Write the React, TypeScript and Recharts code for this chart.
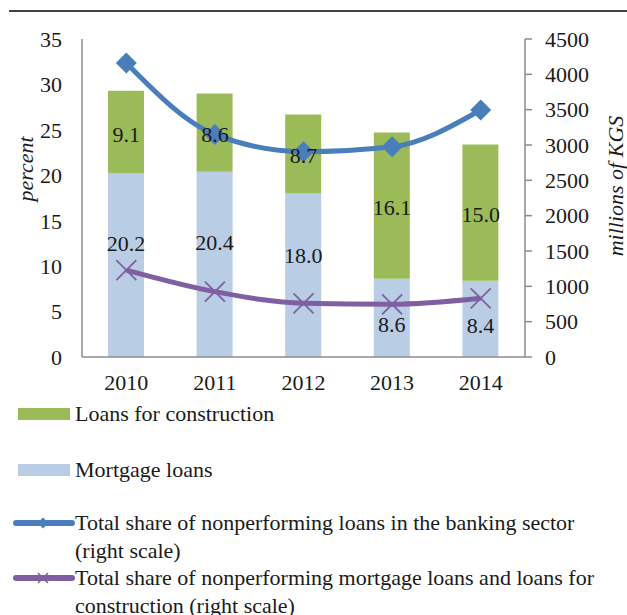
import React from 'react';
import { ComposedChart, Bar, Line, XAxis, YAxis, LabelList, Legend } from 'recharts';

const years = ['2010', '2011', '2012', '2013', '2014'];
const mortgageLoans = [20.2, 20.4, 18.0, 8.6, 8.4];
const constructionLoans = [9.1, 8.6, 8.7, 16.1, 15.0];
const totalNplBanking = [4160, 3150, 2905, 2975, 3495];
const totalNplHousing = [1230, 925, 760, 745, 830];
const leftTicks = [0, 5, 10, 15, 20, 25, 30, 35];
const rightTicks = [0, 500, 1000, 1500, 2000, 2500, 3000, 3500, 4000, 4500];

const NAME_CONSTR = 'Loans for construction';
const NAME_MORT = 'Mortgage loans';
const NAME_TOTAL = 'Total share of nonperforming loans in the banking sector (right scale)';
const NAME_HOUSING = 'Total share of nonperforming mortgage loans and loans for construction (right scale)';
const legendOrder = [NAME_CONSTR, NAME_MORT, NAME_TOTAL, NAME_HOUSING];

const data = years.map((year, i) => ({
  year,
  mortgage: mortgageLoans[i],
  construction: constructionLoans[i],
  constructionMid: mortgageLoans[i] + constructionLoans[i] / 2,
  total: totalNplBanking[i],
  housing: totalNplHousing[i],
}));

const FONT = "'Liberation Serif', 'Times New Roman', serif";
const TEXT = '#1a1a1a';
const AXIS = '#8c8c8c';
const GREEN = '#9BBB59';
const LIGHTBLUE = '#B9CDE5';
const BLUE = '#4A7EBB';
const PURPLE = '#7F5FA1';

const tickStyle = { fontFamily: FONT, fontSize: 22, fill: TEXT };

const DiamondDot = (props: any) => {
  const { cx, cy } = props;
  if (cx == null || cy == null) return <g />;
  const r = 10.5;
  return (
    <path
      d={`M${cx},${cy - r} L${cx + r},${cy} L${cx},${cy + r} L${cx - r},${cy} Z`}
      fill={BLUE}
    />
  );
};

const CrossDot = (props: any) => {
  const { cx, cy } = props;
  if (cx == null || cy == null) return <g />;
  const r = 10;
  return (
    <g stroke={PURPLE} strokeWidth={1.8}>
      <line x1={cx - r} y1={cy - r} x2={cx + r} y2={cy + r} />
      <line x1={cx - r} y1={cy + r} x2={cx + r} y2={cy - r} />
    </g>
  );
};

const renderMortgageLabel = (props: any) => {
  const vb = props.viewBox || props;
  const { x, y, width, height } = vb;
  const h = Math.abs(height);
  const top = Math.min(y, y + height);
  const off = h > 120 ? 0.38 * h : h / 2 + 7;
  return (
    <text
      x={x + width / 2}
      y={top + off}
      textAnchor="middle"
      dominantBaseline="central"
      style={{ fontFamily: FONT, fontSize: 22 }}
      fill={TEXT}
    >
      {Number(props.value).toFixed(1)}
    </text>
  );
};

const renderConstructionLabel = (props: any) => {
  const vb = props.viewBox || props;
  return (
    <text
      x={vb.x}
      y={vb.y + 2}
      textAnchor="middle"
      dominantBaseline="central"
      style={{ fontFamily: FONT, fontSize: 22 }}
      fill={TEXT}
    >
      {Number(props.value).toFixed(1)}
    </text>
  );
};

const renderLeftAxisLabel = (props: any) => {
  const vb = props.viewBox;
  const cx = vb.x + 25;
  const cy = vb.y + vb.height / 2 - 29;
  return (
    <text
      x={cx}
      y={cy}
      transform={`rotate(-90, ${cx}, ${cy})`}
      textAnchor="middle"
      dominantBaseline="central"
      style={{ fontFamily: FONT, fontSize: 22, fontStyle: 'italic' }}
      fill={TEXT}
    >
      percent
    </text>
  );
};

const renderRightAxisLabel = (props: any) => {
  const vb = props.viewBox;
  const cx = vb.x + 90;
  const cy = vb.y + vb.height / 2 - 12;
  return (
    <text
      x={cx}
      y={cy}
      transform={`rotate(-90, ${cx}, ${cy})`}
      textAnchor="middle"
      dominantBaseline="central"
      style={{ fontFamily: FONT, fontSize: 22, fontStyle: 'italic' }}
      fill={TEXT}
    >
      millions of KGS
    </text>
  );
};

const itemTops = [10, 66, 119, 174];

const renderLegend = (props: any) => {
  const payload = (props.payload || [])
    .filter((p: any) => legendOrder.includes(p.value))
    .sort((a: any, b: any) => legendOrder.indexOf(a.value) - legendOrder.indexOf(b.value));
  return (
    <div style={{ position: 'relative', width: 627, height: 220, fontFamily: FONT, fontSize: 22, color: TEXT }}>
      {payload.map((p: any) => {
        const idx = legendOrder.indexOf(p.value);
        const top = itemTops[idx];
        const isBar = idx < 2;
        return (
          <div key={p.value} style={{ position: 'absolute', left: 0, top, width: 627 }}>
            {isBar ? (
              <div
                style={{
                  position: 'absolute',
                  left: 18,
                  top: 8,
                  width: 52,
                  height: 12,
                  background: p.color,
                }}
              />
            ) : (
              <svg style={{ position: 'absolute', left: 12, top: 4 }} width={64} height={20}>
                <line x1={4} y1={10} x2={60} y2={10} stroke={p.color} strokeWidth={6} strokeLinecap="round" />
                {idx === 2 ? (
                  <path d="M31,4.5 L36.5,10 L31,15.5 L25.5,10 Z" fill={p.color} />
                ) : (
                  <g stroke={p.color} strokeWidth={1.5}>
                    <line x1={26} y1={5} x2={36} y2={15} />
                    <line x1={26} y1={15} x2={36} y2={5} />
                  </g>
                )}
              </svg>
            )}
            <div
              style={{
                position: 'absolute',
                left: 75,
                top: 0,
                width: 550,
                lineHeight: '28px',
                whiteSpace: 'normal',
              }}
            >
              {p.value}
            </div>
          </div>
        );
      })}
    </div>
  );
};

export default function App() {
  return (
    <div style={{ position: 'absolute', left: 0, top: 0, width: 627, height: 615, background: '#fff', fontFamily: FONT }}>
      <div style={{ position: 'absolute', left: 9, right: 0, top: 10, height: 2, background: '#444' }} />
      <ComposedChart
        width={627}
        height={615}
        data={data}
        margin={{ top: 39, right: 0, left: 0, bottom: 228 }}
        barSize={36}
      >
        <XAxis
          dataKey="year"
          tickLine={false}
          axisLine={{ stroke: AXIS, strokeWidth: 1.5 }}
          tick={tickStyle}
          tickSize={6}
          tickMargin={11}
          height={30}
        />
        <YAxis
          yAxisId="left"
          orientation="left"
          domain={[0, 35]}
          ticks={leftTicks}
          interval={0}
          width={82}
          tickLine={false}
          axisLine={{ stroke: AXIS, strokeWidth: 1.5 }}
          tick={tickStyle}
          tickSize={6}
          tickMargin={14}
          label={{ content: renderLeftAxisLabel }}
        />
        <YAxis
          yAxisId="right"
          orientation="right"
          domain={[0, 4500]}
          ticks={rightTicks}
          interval={0}
          width={102}
          tickLine={{ stroke: AXIS, strokeWidth: 1.5 }}
          axisLine={{ stroke: AXIS, strokeWidth: 1.5 }}
          tick={tickStyle}
          tickSize={7}
          tickMargin={13}
          label={{ content: renderRightAxisLabel }}
        />
        <Bar yAxisId="left" dataKey="mortgage" name={NAME_MORT} stackId="a" fill={LIGHTBLUE} isAnimationActive={false}>
          <LabelList dataKey="mortgage" content={renderMortgageLabel} />
        </Bar>
        <Bar yAxisId="left" dataKey="construction" name={NAME_CONSTR} stackId="a" fill={GREEN} isAnimationActive={false} />
        <Line
          yAxisId="right"
          type="monotone"
          dataKey="total"
          name={NAME_TOTAL}
          stroke={BLUE}
          strokeWidth={5}
          dot={(p: any) => <DiamondDot key={`d${p.index}`} {...p} />}
          activeDot={false}
          isAnimationActive={false}
        />
        <Line
          yAxisId="right"
          type="monotone"
          dataKey="housing"
          name={NAME_HOUSING}
          stroke={PURPLE}
          strokeWidth={5}
          dot={(p: any) => <CrossDot key={`x${p.index}`} {...p} />}
          activeDot={false}
          isAnimationActive={false}
        />
        <Line
          yAxisId="left"
          dataKey="constructionMid"
          stroke="none"
          dot={false}
          activeDot={false}
          legendType="none"
          isAnimationActive={false}
        >
          <LabelList dataKey="construction" content={renderConstructionLabel} />
        </Line>
        <Legend
          layout="vertical"
          align="center"
          verticalAlign="middle"
          content={renderLegend}
          wrapperStyle={{ left: 0, top: 390, width: 627, height: 220 }}
        />
      </ComposedChart>
    </div>
  );
}
